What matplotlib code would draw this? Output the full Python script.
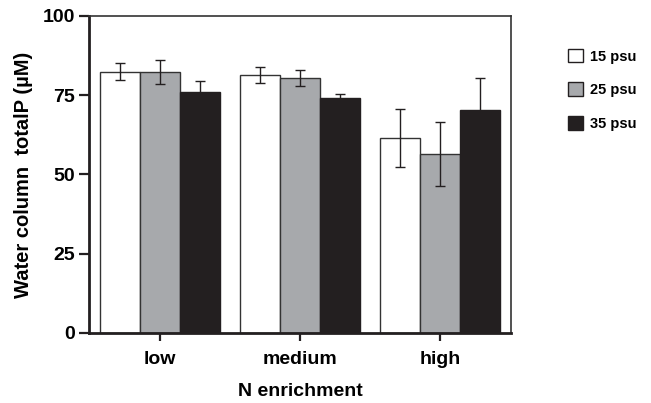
import matplotlib
matplotlib.use("Agg")
import matplotlib.pyplot as plt
import numpy as np
from matplotlib.patches import Patch

categories = ["low", "medium", "high"]
series_labels = ["15 psu", "25 psu", "35 psu"]
values_15 = [82.4, 81.3, 61.5]
values_25 = [82.4, 80.4, 56.5]
values_35 = [75.9, 74.0, 70.5]
err_15 = [2.7, 2.5, 9.1]
err_25 = [3.8, 2.5, 10.0]
err_35 = [3.7, 1.3, 10.0]
y_ticks = [0, 25, 50, 75, 100]

plt.rcParams['font.family'] = ['Liberation Sans', 'DejaVu Sans']
plt.rcParams['font.weight'] = 'bold'

fig = plt.figure(figsize=(6.51, 4.03), dpi=100)
ax = fig.add_axes([0.1367, 0.1737, 0.6482, 0.7866])

fills = ["#ffffff", "#a7a9ac", "#231f20"]
edges = ["#333333", "#333333", "#231f20"]
x = np.arange(len(categories))
w = 0.285
all_vals = [values_15, values_25, values_35]
all_err = [err_15, err_25, err_35]
for i, (v, e) in enumerate(zip(all_vals, all_err)):
    pos = x + (i - 1) * w
    ax.bar(pos, v, width=w, color=fills[i], edgecolor=edges[i], linewidth=1.0, zorder=2)
    ax.errorbar(pos, v, yerr=e, fmt='none', ecolor='#231f20', elinewidth=1.0,
                capsize=3.3, capthick=1.0, zorder=3)

ax.set_xlim(-0.507, 2.507)
ax.set_ylim(0, 100)
ax.set_yticks(y_ticks)
ax.set_xticks(x)
ax.set_xticklabels(categories, fontsize=14, fontweight='bold')
ax.set_yticklabels([str(t) for t in y_ticks], fontsize=14, fontweight='bold')
ax.tick_params(axis='y', direction='out', length=7, width=1.6, color='#231f20', pad=3)
ax.tick_params(axis='x', direction='out', length=6, width=1.6, color='#231f20', pad=7)

for s in ['left', 'bottom']:
    ax.spines[s].set_linewidth(2.0)
    ax.spines[s].set_color('#231f20')
for s in ['top', 'right']:
    ax.spines[s].set_linewidth(1.2)
    ax.spines[s].set_color('#333333')

ax.set_ylabel("Water column  totalP (\u00b5M)", fontsize=14.5, fontweight='bold', labelpad=7)
ax.set_xlabel("N enrichment", fontsize=14, fontweight='bold', labelpad=11)

handles = [Patch(facecolor=fills[i], edgecolor='#231f20', linewidth=1.0) for i in range(3)]
leg = fig.legend(handles, series_labels, loc='upper left', bbox_to_anchor=(0.861, 0.897),
                 frameon=False, prop={'weight': 'bold', 'size': 10.5}, borderpad=0,
                 handlelength=1.05, handleheight=1.05, handletextpad=0.45, labelspacing=1.3)

fig.savefig("out.png", dpi=100)
